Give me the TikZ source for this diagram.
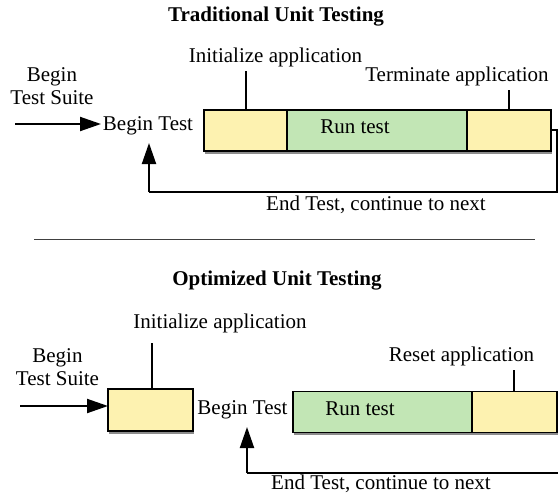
\documentclass[tikz,border=0pt]{standalone}
\usepackage{fontspec}
\setmainfont{Liberation Serif}
\usetikzlibrary{arrows.meta,shadows}
\definecolor{boxyellow}{HTML}{FDF2B0}
\definecolor{boxgreen}{HTML}{C2E6B5}
\begin{document}
\begin{tikzpicture}[x=1pt,y=-1pt,
  every node/.style={font=\fontsize{21}{23.5}\selectfont, inner sep=0pt, outer sep=0pt},
  stagebox/.style={draw=black, line width=1.5pt, rectangle, minimum height=41pt,
    drop shadow={shadow xshift=1pt, shadow yshift=-2.5pt, opacity=0.45, fill=black}},
  ybox/.style={stagebox, fill=boxyellow},
  gbox/.style={stagebox, fill=boxgreen},
  flow/.style={line width=2pt, -{Triangle[length=21pt,width=14pt]}},
  loopline/.style={line width=2pt},
  tick/.style={line width=2pt},
  lbl/.style={align=center},
  title/.style={font=\fontsize{21}{23.5}\selectfont\bfseries}]
\useasboundingbox (0,0) rectangle (558,496);

% ---------- Traditional ----------
\node[title] (t1) at (276,17) {Traditional Unit Testing};
\node[lbl] (bs1) at (52,86) {Begin\\Test Suite};
\coordinate (s1) at (15,124);
\node (bt1) at (148,126) {Begin Test};
\draw[flow] (s1) -- (101,124);

\node[ybox, minimum width=83pt] (ia1) at (245.5,130.5) {};
\node[gbox, minimum width=180pt] (rt1) at (377,130.5) {};
\node[ybox, minimum width=84pt] (ta1) at (509,130.5) {};
\node (rtl1) at (355,127) {Run test};

\node (ial1) at (275.5,57) {Initialize application};
\coordinate (iat1) at (246,71);
\draw[tick] (iat1) -- (iat1 |- ia1.north);
\node (tal1) at (457,76) {Terminate application};
\coordinate (tat1) at (509,90);
\draw[tick] (tat1) -- (tat1 |- ta1.north);

\coordinate (r1a) at (557,130);
\coordinate (r1b) at (557,192);
\coordinate (r1c) at (149,192);
\draw[loopline] (ta1.east |- r1a) -- (r1a) -- (r1b) -- (r1c);
\draw[flow] (r1c) -- (149,143);
\node (el1) at (376,205) {End Test, continue to next};

\draw[line width=0.8pt, black!75] (34,239) -- (535,239);

% ---------- Optimized ----------
\node[title] (t2) at (277,281) {Optimized Unit Testing};
\node (ial2) at (220,323) {Initialize application};
\node[lbl] (bs2) at (57.5,367) {Begin\\Test Suite};
\node[ybox, minimum width=85pt, minimum height=42pt] (ia2) at (150.5,410) {};
\coordinate (s2) at (20,406);
\draw[flow] (s2) -- (s2 -| ia2.west);
\coordinate (iat2) at (152,343);
\draw[tick] (iat2) -- (iat2 |- ia2.north);

\node (bt2) at (242.5,410) {Begin Test};
\node[gbox, minimum width=179pt] (rt2) at (382.5,412) {};
\node[ybox, minimum width=85pt] (ra2) at (514.5,412) {};
\node (rtl2) at (360,409) {Run test};

\node (ral2) at (461.5,356) {Reset application};
\coordinate (rat2) at (514,370);
\draw[tick] (rat2) -- (rat2 |- ra2.north);

\coordinate (r2a) at (565,411);
\coordinate (r2b) at (565,473);
\coordinate (r2c) at (247,473);
\draw[loopline] (ra2.east |- r2a) -- (r2a) -- (r2b) -- (r2c);
\draw[flow] (r2c) -- (247,427);
\node (el2) at (381,484) {End Test, continue to next};
\end{tikzpicture}
\end{document}
